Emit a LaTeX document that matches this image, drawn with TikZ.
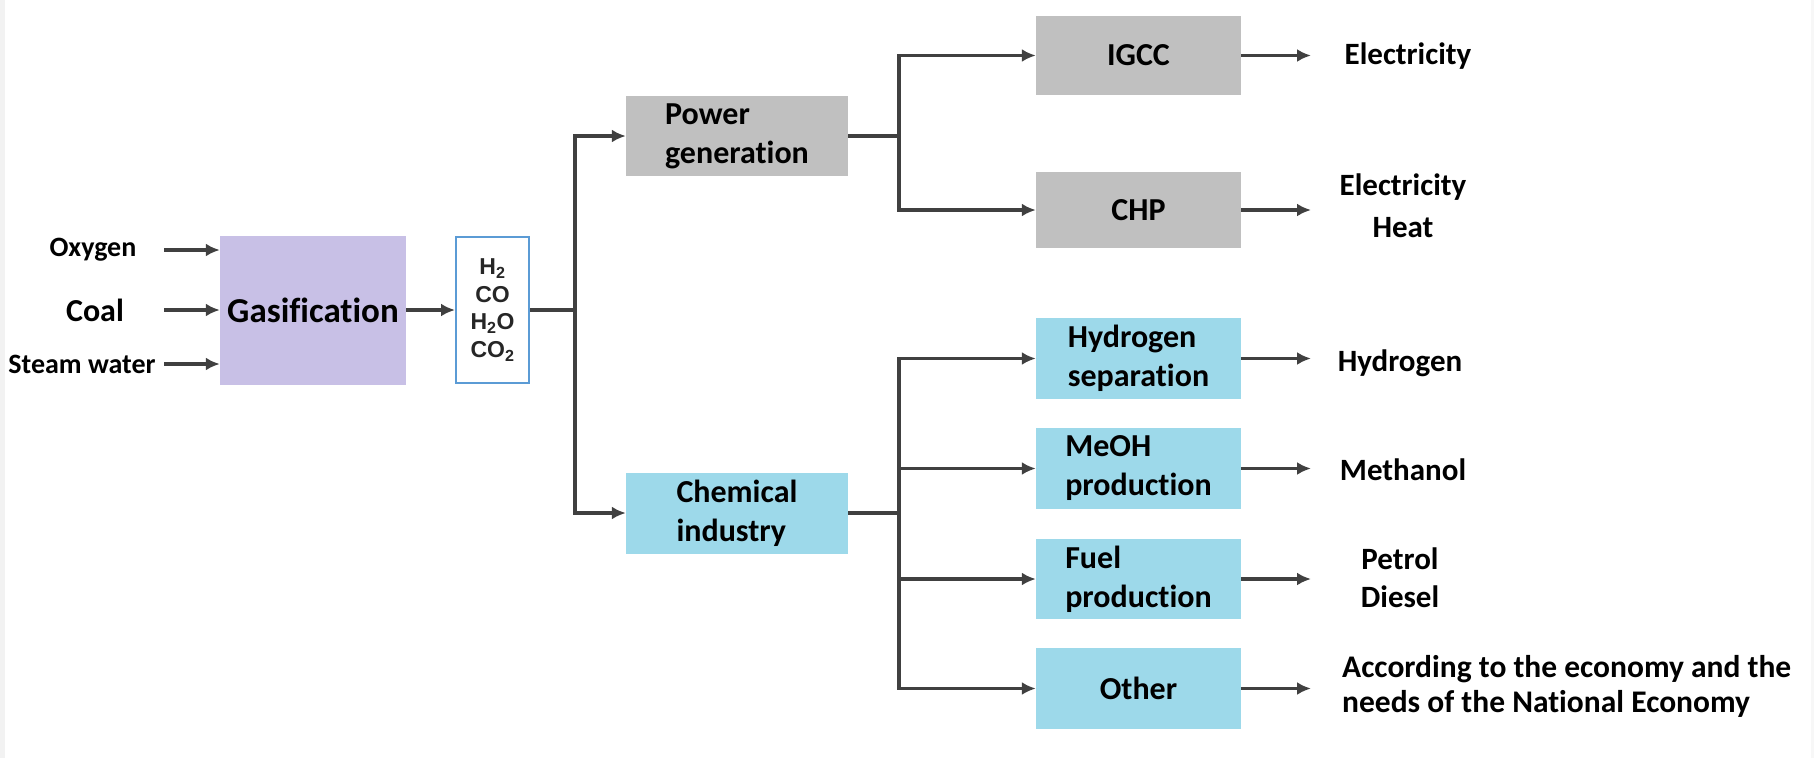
\documentclass[tikz,border=0pt]{standalone}
\usepackage{fontspec}
\setmainfont{Carlito}[Ligatures=NoCommon]
\newfontfamily\arialfont{Liberation Sans}
\usetikzlibrary{arrows.meta}
\definecolor{gasviolet}{RGB}{200,192,230}
\definecolor{powergray}{RGB}{192,192,192}
\definecolor{chemcyan}{RGB}{157,217,234}
\definecolor{linegray}{RGB}{64,64,64}
\definecolor{synblue}{RGB}{91,155,213}
\begin{document}
\begin{tikzpicture}[x=1pt,y=-1pt,
  box/.style={inner sep=0pt,minimum width=205pt,minimum height=80pt,align=left,font=\fontsize{32}{39}\selectfont\bfseries},
  flow/.style={linegray,line width=3.5pt,-{Latex[length=14pt,width=13pt]}},
  link/.style={linegray,line width=4pt},
  lbl/.style={inner sep=0pt,font=\fontsize{31}{38}\selectfont\bfseries}]
  \useasboundingbox (0,0) rectangle (1814,758);
  \fill[gray!10] (0,0) rectangle (5,758);
  \fill[gray!6] (1811,0) rectangle (1814,758);
  % feed and gasifier
  \node[lbl,font=\fontsize{28}{34}\selectfont\bfseries] (oxy) at (93,250) {Oxygen};
  \node[lbl,font=\fontsize{32}{38}\selectfont\bfseries] (coal) at (95,310) {Coal};
  \node[lbl,font=\fontsize{28}{34}\selectfont\bfseries] (steam) at (82,364) {Steam water};
  \node[box,fill=gasviolet,minimum width=186pt,minimum height=149pt,font=\fontsize{35}{42}\selectfont\bfseries] (gas) at (313,310) {Gasification};
  \node[draw=synblue,line width=2pt,fill=white,minimum width=73pt,minimum height=146pt,inner sep=0pt,align=center,text=black!85,font=\arialfont\fontsize{23}{27.5}\selectfont\bfseries] (syn) at (492.5,310) {H\textsubscript{2}\\CO\\H\textsubscript{2}O\\CO\textsubscript{2}};
  \coordinate (feed) at (164,0);
  \foreach \n in {oxy,coal,steam}
    \draw[flow] (\n -| feed) -- (\n -| gas.west);
  \draw[flow] (gas) -- (syn);
  % two uses of the syngas
  \node[box,fill=powergray,minimum width=222pt] (power) at (737,136) {Power\\generation};
  \node[box,fill=chemcyan,minimum width=222pt,minimum height=81pt] (chem) at (737,513) {Chemical\\industry};
  \coordinate (trunk) at (575,0);
  \draw[link] (syn) -- (syn -| trunk);
  \draw[flow] (syn -| trunk) |- (power);
  \draw[flow] (syn -| trunk) |- (chem);
  % processes
  \node[box,fill=powergray,minimum height=79pt] (igcc) at (1138.5,55.5) {IGCC};
  \node[box,fill=powergray,minimum height=76pt] (chp) at (1138.5,210) {CHP};
  \node[box,fill=chemcyan,minimum height=81pt] (hsep) at (1138.5,358.5) {Hydrogen\\separation};
  \node[box,fill=chemcyan,minimum height=81pt] (meoh) at (1138.5,468.5) {MeOH\\production};
  \node[box,fill=chemcyan] (fuel) at (1138.5,579) {Fuel\\production};
  \node[box,fill=chemcyan,minimum height=81pt] (other) at (1138.5,688.5) {Other};
  \coordinate (fork) at (899,0);
  \draw[link] (power) -- (power -| fork);
  \foreach \n in {igcc,chp}
    \draw[flow] (power -| fork) |- (\n);
  \draw[link] (chem) -- (chem -| fork);
  \foreach \n in {hsep,meoh,fuel,other}
    \draw[flow] (chem -| fork) |- (\n);
  % products
  \node[lbl] (elec) at (1408,56) {Electricity};
  \node[lbl,align=center,font=\fontsize{31}{42}\selectfont\bfseries] (elheat) at (1403,206) {Electricity\\Heat};
  \node[lbl] (hyd) at (1400,363) {Hydrogen};
  \node[lbl] (meth) at (1403,470) {Methanol};
  \node[lbl,align=center] (petdie) at (1400,578) {Petrol\\Diesel};
  \node[lbl,align=left,anchor=west,font=\fontsize{31.5}{35}\selectfont\bfseries] (econ) at (1342,686) {According to the economy and the\\needs of the National Economy};
  \coordinate (outx) at (1311,0);
  \foreach \n in {igcc,chp,hsep,meoh,fuel,other}
    \draw[flow] (\n) -- (\n -| outx);
\end{tikzpicture}
\end{document}
